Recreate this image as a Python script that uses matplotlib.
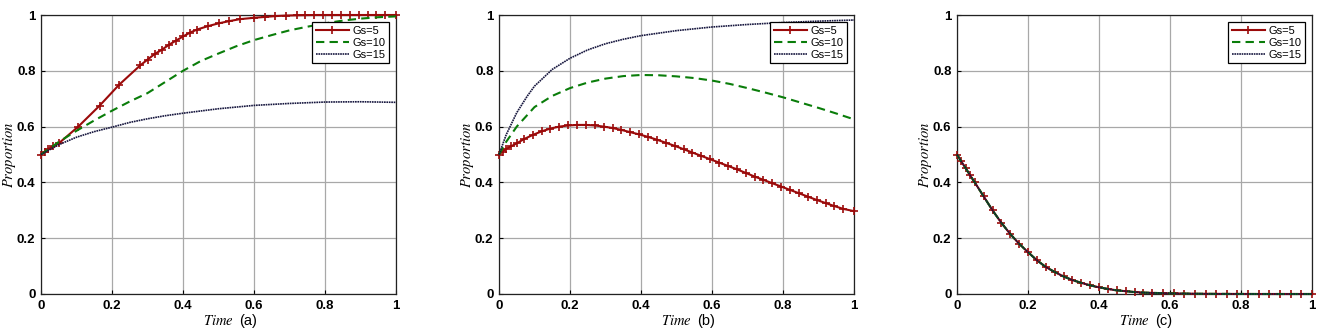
import matplotlib
matplotlib.use("Agg")
import matplotlib.pyplot as plt
import numpy as np

plt.rcParams['font.family'] = ['Liberation Sans', 'DejaVu Sans']
plt.rcParams['mathtext.fontset'] = 'stix'

labels = ["Gs=5", "Gs=10", "Gs=15"]
panel_tags = ["(a)", "(b)", "(c)"]

# ---- Panel (a) ----
a_x5 = [0.0, 0.01, 0.02, 0.035, 0.05, 0.105, 0.165, 0.22, 0.28, 0.30, 0.32, 0.34,
        0.36, 0.38, 0.40, 0.42, 0.44, 0.47, 0.50, 0.53, 0.56, 0.60, 0.63, 0.66,
        0.69, 0.72, 0.745, 0.77, 0.795, 0.82, 0.845, 0.87, 0.895, 0.92, 0.945, 0.97, 1.0]
a_y5 = [0.5, 0.51, 0.52, 0.53, 0.54, 0.60, 0.675, 0.75, 0.82, 0.84, 0.86, 0.875,
        0.893, 0.908, 0.923, 0.937, 0.948, 0.96, 0.97, 0.978, 0.985, 0.99, 0.993, 0.996,
        0.998, 0.999, 0.9995, 1.0, 1.0, 1.0, 1.0, 1.0, 1.0, 1.0, 1.0, 1.0, 1.0]
a_x10 = [0.0, 0.05, 0.1, 0.15, 0.2, 0.25, 0.3, 0.35, 0.4, 0.45, 0.5, 0.55, 0.6,
         0.65, 0.7, 0.75, 0.8, 0.85, 0.9, 0.95, 1.0]
a_y10 = [0.5, 0.545, 0.585, 0.622, 0.657, 0.69, 0.72, 0.76, 0.80, 0.835, 0.862, 0.888, 0.91,
         0.928, 0.945, 0.958, 0.97, 0.98, 0.987, 0.992, 0.995]
a_x15 = [0.0, 0.05, 0.1, 0.15, 0.2, 0.25, 0.3, 0.35, 0.4, 0.5, 0.6, 0.7, 0.8, 0.9, 1.0]
a_y15 = [0.5, 0.535, 0.562, 0.582, 0.598, 0.615, 0.628, 0.639, 0.648, 0.664, 0.676, 0.683, 0.688, 0.689, 0.687]

# ---- Panel (b) ----
b_x5 = [0.0, 0.01, 0.02, 0.035, 0.05, 0.07, 0.095, 0.12, 0.145, 0.17, 0.195, 0.22,
        0.245, 0.27, 0.295, 0.32, 0.345, 0.37, 0.395, 0.42, 0.445, 0.47, 0.495, 0.52,
        0.545, 0.57, 0.595, 0.62, 0.645, 0.67, 0.695, 0.72, 0.745, 0.77, 0.795, 0.82,
        0.845, 0.87, 0.895, 0.92, 0.945, 0.97, 1.0]
b_y5 = [0.5, 0.51, 0.52, 0.53, 0.54, 0.555, 0.57, 0.583, 0.593, 0.6, 0.604, 0.606,
        0.606, 0.604, 0.6, 0.595, 0.588, 0.58, 0.572, 0.563, 0.553, 0.542, 0.531, 0.519,
        0.507, 0.495, 0.483, 0.471, 0.459, 0.447, 0.434, 0.421, 0.409, 0.397, 0.385, 0.373,
        0.361, 0.349, 0.337, 0.326, 0.315, 0.305, 0.297]
b_x10 = [0.0, 0.02, 0.05, 0.1, 0.15, 0.2, 0.25, 0.3, 0.35, 0.4, 0.45, 0.5, 0.55,
         0.6, 0.65, 0.7, 0.75, 0.8, 0.85, 0.9, 0.95, 1.0]
b_y10 = [0.5, 0.545, 0.6, 0.67, 0.71, 0.738, 0.758, 0.772, 0.781, 0.785, 0.784, 0.78, 0.774,
         0.765, 0.753, 0.738, 0.722, 0.705, 0.686, 0.667, 0.647, 0.626]
b_x15 = [0.0, 0.02, 0.05, 0.08, 0.1, 0.15, 0.2, 0.25, 0.3, 0.35, 0.4, 0.5, 0.6, 0.7, 0.8, 0.9, 1.0]
b_y15 = [0.5, 0.57, 0.65, 0.71, 0.745, 0.805, 0.845, 0.875, 0.897, 0.913, 0.926, 0.944, 0.957, 0.966, 0.973, 0.978, 0.982]

# ---- Panel (c) (all three series coincide) ----
c_x = [0.0, 0.012, 0.025, 0.037, 0.05, 0.075, 0.1, 0.125, 0.15, 0.175, 0.2, 0.225,
       0.25, 0.275, 0.3, 0.325, 0.35, 0.375, 0.4, 0.425, 0.45, 0.475, 0.5, 0.525,
       0.55, 0.58, 0.61, 0.64, 0.67, 0.70, 0.73, 0.76, 0.79, 0.82, 0.85, 0.88,
       0.91, 0.94, 0.97, 1.0]
c_y = [0.5, 0.475, 0.45, 0.425, 0.4, 0.35, 0.3, 0.255, 0.215, 0.18, 0.15, 0.121,
       0.097, 0.079, 0.063, 0.05, 0.04, 0.031, 0.024, 0.018, 0.013, 0.01, 0.007, 0.005,
       0.004, 0.003, 0.002, 0.0015, 0.001, 0.0007, 0.0005, 0.0003, 0.0002, 0.0001, 0.0, 0.0,
       0.0, 0.0, 0.0, 0.0]

panels = [
    (a_x5, a_y5, a_x10, a_y10, a_x15, a_y15),
    (b_x5, b_y5, b_x10, b_y10, b_x15, b_y15),
    (c_x, c_y, c_x, c_y, c_x, c_y),
]

W, H = 1325, 332
fig = plt.figure(figsize=(W / 100, H / 100), dpi=100)
lefts = [41, 499, 957]
ax_w, ax_top, ax_bot = 355, 15, 294
ax_h = ax_bot - ax_top

red = '#9b0a0a'
green = '#0a7d0a'
navy = '#16163e'

for i, (x5, y5, x10, y10, x15, y15) in enumerate(panels):
    ax = fig.add_axes([lefts[i] / W, (H - ax_bot) / H, ax_w / W, ax_h / H])
    ax.plot(x5, y5, color=red, lw=1.5, marker='+', ms=6, mew=1.2, label=labels[0],
            zorder=3, clip_on=False)
    ax.plot(x10, y10, color=green, lw=1.5, ls=(0, (4, 2.5)), label=labels[1], zorder=4,
            clip_on=False)
    ax.plot(x15, y15, color=navy, lw=1.2, ls=(0, (1, 0.45)), label=labels[2], zorder=5,
            clip_on=False)
    ax.set_xlim(0, 1)
    ax.set_ylim(0, 1)
    ax.set_xticks([0, 0.2, 0.4, 0.6, 0.8, 1])
    ax.set_yticks([0, 0.2, 0.4, 0.6, 0.8, 1])
    ax.set_xticklabels(['0', '0.2', '0.4', '0.6', '0.8', '1'])
    ax.set_yticklabels(['0', '0.2', '0.4', '0.6', '0.8', '1'])
    ax.grid(True, color='#a8a8a8', lw=0.9)
    ax.set_axisbelow(True)
    ax.tick_params(direction='in', length=3, width=0.8, labelsize=9.5, pad=4)
    for lab in ax.get_xticklabels() + ax.get_yticklabels():
        lab.set_fontweight('bold')
    for s in ax.spines.values():
        s.set_linewidth(0.9)
        s.set_color('#222222')
    ax.set_ylabel(r'$\mathit{Proportion}$', fontsize=10.5)
    ax.yaxis.set_label_coords(-31 / ax_w, 0.5)
    ax.yaxis.label.set_va('center')
    ax.set_xlabel(r'$\mathit{Time}$', fontsize=10.5)
    ax.xaxis.set_label_coords(0.5, -(321 - ax_bot) / ax_h)
    ax.xaxis.label.set_va('center')
    ax.text((239 - 41) / ax_w, -(321 - ax_bot) / ax_h, panel_tags[i], transform=ax.transAxes,
            ha='left', va='center', fontsize=10.5)
    leg = ax.legend(loc='upper right', fontsize=8, frameon=True, fancybox=False,
                    edgecolor='black', framealpha=1, handlelength=3.0,
                    handletextpad=0.3, borderpad=0.3, labelspacing=0.2,
                    borderaxespad=0.65)
    leg.get_frame().set_linewidth(0.9)
    leg.set_zorder(10)

fig.savefig('out.png', dpi=100)
